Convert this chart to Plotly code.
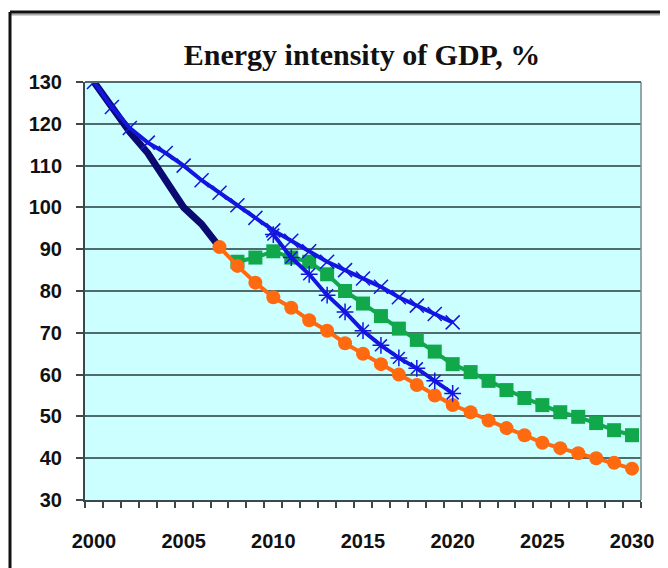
import plotly.graph_objects as go

years = list(range(2000, 2031))

hist_years = list(range(2000, 2008))
hist_vals = [130, 124, 118, 113, 106.5, 100, 96, 90.5]

upper_years = list(range(2000, 2021))
upper_vals = [130, 124, 119, 115.5, 113, 110, 106.5, 103.5, 100.5, 97.5,
              94.5, 92, 89.5, 87, 85, 83, 81, 78.5, 76.5, 74.5, 72.5]

lower_years = list(range(2010, 2021))
lower_vals = [93.5, 88, 84, 79, 75, 70.5, 67, 64, 61.5, 58.5, 55.5]

green_years = list(range(2008, 2031))
green_vals = [87, 88, 89.5, 88, 87, 84, 80, 77, 74, 71, 68.3, 65.5, 62.5,
              60.6, 58.5, 56.3, 54.4, 52.7, 51, 49.9, 48.4, 46.7, 45.5]

orange_years = list(range(2007, 2031))
orange_vals = [90.5, 86, 82, 78.5, 76, 73, 70.5, 67.5, 65, 62.5, 60, 57.5,
               55, 52.7, 51, 49, 47.2, 45.5, 43.7, 42.4, 41.2, 40, 38.9, 37.5]

x_tick_years = [2000, 2005, 2010, 2015, 2020, 2025, 2030]
y_ticks = [30, 40, 50, 60, 70, 80, 90, 100, 110, 120, 130]

fig = go.Figure()

fig.add_trace(go.Scatter(x=hist_years, y=hist_vals, mode="lines",
                         line=dict(color="#0a0a70", width=7), showlegend=False))
fig.add_trace(go.Scatter(x=green_years, y=green_vals, mode="lines+markers",
                         line=dict(color="#10a84a", width=4),
                         marker=dict(symbol="square", size=14, color="#10a84a"),
                         showlegend=False))
fig.add_trace(go.Scatter(x=orange_years, y=orange_vals, mode="lines+markers",
                         line=dict(color="#ff6a10", width=4),
                         marker=dict(symbol="circle", size=14, color="#ff6a10"),
                         showlegend=False))
fig.add_trace(go.Scatter(x=lower_years, y=lower_vals, mode="lines+markers",
                         line=dict(color="#1515e0", width=4),
                         marker=dict(symbol="asterisk-open", size=14,
                                     line=dict(color="#1515e0", width=1.5)),
                         showlegend=False))
fig.add_trace(go.Scatter(x=upper_years, y=upper_vals, mode="lines+markers",
                         line=dict(color="#1515e0", width=4),
                         marker=dict(symbol="x-thin-open", size=14,
                                     line=dict(color="#1515e0", width=1.5)),
                         showlegend=False))

# page body adds an 8px offset, so the figure is laid out 8px smaller
OFF = 8
W, H = 668 - OFF, 568 - OFF
L, T = 85 - OFF, 82 - OFF
R = W - (641 - OFF)
B = H - (500 - OFF)
pw = W - L - R
ph = H - T - B

def px(xp):
    return (xp - OFF - L) / pw

def py(yp):
    return 1 - (yp - OFF - T) / ph

fig.update_layout(
    width=W, height=H,
    margin=dict(l=L, r=R, t=T, b=B),
    paper_bgcolor="white",
    plot_bgcolor="#ccffff",
    title=dict(text="<b>Energy intensity of GDP, %</b>",
               font=dict(family="Liberation Serif", size=30, color="#111"),
               x=px(362), xref="paper", xanchor="center",
               y=1 - (54 - OFF) / H, yref="container", yanchor="middle"),
    font=dict(family="Liberation Sans", color="#111"),
    xaxis=dict(range=[1999.5, 2030.5], tickvals=x_tick_years,
               ticktext=["<b>%d</b>" % v for v in x_tick_years],
               ticks="", showgrid=False, zeroline=False, automargin=False,
               showline=True, linecolor="#3a4a4a", linewidth=2, mirror=False,
               tickfont=dict(size=20, family="Liberation Sans", color="#111"),
               ticklabelstandoff=22,
               minor=dict(tick0=1999.5, dtick=1, ticks="outside", ticklen=6,
                          tickcolor="#3a4a4a", tickwidth=2, showgrid=False)),
    yaxis=dict(range=[30, 130], tickvals=y_ticks,
               ticktext=["<b>%d</b>" % v for v in y_ticks],
               ticks="outside", ticklen=7, automargin=False,
               tickcolor="#3a4a4a", tickwidth=2,
               showgrid=True, gridcolor="#4f6b6b", gridwidth=2,
               zeroline=False, showline=True, linecolor="#3a4a4a", linewidth=2,
               tickfont=dict(size=20, family="Liberation Sans", color="#111"),
               ticklabelstandoff=10),
    shapes=[
        dict(type="line", xref="paper", yref="paper", x0=1, x1=1, y0=0, y1=1,
             line=dict(color="#7a8a8a", width=1.5)),
        dict(type="line", xref="paper", yref="paper", x0=0, x1=1, y0=1, y1=1,
             line=dict(color="#4f6b6b", width=2)),
        dict(type="line", xref="paper", yref="paper",
             x0=px(10), x1=px(668), y0=py(14.5), y1=py(14.5),
             line=dict(color="#aaaaaa", width=2)),
        dict(type="line", xref="paper", yref="paper",
             x0=px(10), x1=px(668), y0=py(12), y1=py(12),
             line=dict(color="#111", width=3)),
        dict(type="line", xref="paper", yref="paper",
             x0=px(10), x1=px(10), y0=py(12), y1=py(568),
             line=dict(color="#111", width=3)),
    ],
)

fig.write_html("out.html")
